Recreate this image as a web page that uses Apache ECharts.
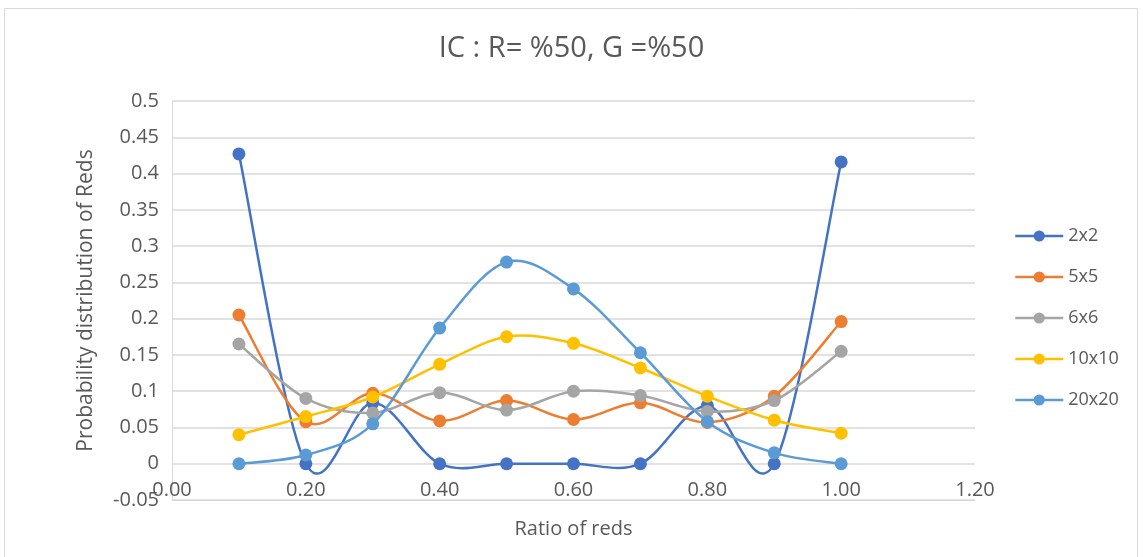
<!DOCTYPE html>
<html><head><meta charset="utf-8">
<script src="https://cdn.jsdelivr.net/npm/echarts@6/dist/echarts.min.js"></script>
<style>html,body{margin:0;padding:0;background:#fff}#c{width:1143px;height:557px}</style>
</head><body><div id="c"></div>
<script>
const ratios = [0.1, 0.2, 0.3, 0.4, 0.5, 0.6, 0.7, 0.8, 0.9, 1.0];
const s2x2   = [0.427, 0, 0.084, 0, 0, 0, 0, 0.08, 0, 0.416];
const s5x5   = [0.205, 0.058, 0.097, 0.059, 0.087, 0.061, 0.084, 0.057, 0.093, 0.196];
const s6x6   = [0.165, 0.090, 0.070, 0.098, 0.074, 0.100, 0.094, 0.072, 0.087, 0.155];
const s10x10 = [0.040, 0.065, 0.092, 0.137, 0.175, 0.166, 0.132, 0.093, 0.060, 0.042];
const s20x20 = [0, 0.012, 0.055, 0.187, 0.278, 0.241, 0.153, 0.058, 0.015, 0];
const seriesNames = ['2x2', '5x5', '6x6', '10x10', '20x20'];
const seriesData = [s2x2, s5x5, s6x6, s10x10, s20x20];
const colors = ['#4472C4', '#ED7D31', '#A5A5A5', '#FFC000', '#5B9BD5'];

const font = 'Open Sans, Noto Sans, sans-serif';
const txt = '#595959';
const grid = '#d9d9d9';

// Smooth curve (Catmull-Rom style bezier) drawn through the axis scale with api.coord
function curveSeries(idx) {
  const ys = seriesData[idx];
  const pts = ratios.map((x, j) => [x, ys[j]]);
  return {
    type: 'custom', name: seriesNames[idx] + ' curve', silent: true,
    data: pts, encode: {x: 0, y: 1},
    z: 2 + idx * 2,
    renderItem: function (params, api) {
      const i = params.dataIndex;
      if (i >= pts.length - 1) return null;
      const c = k => api.coord(pts[Math.max(0, Math.min(pts.length - 1, k))]);
      const p0 = c(i - 1), p1 = c(i), p2 = c(i + 1), p3 = c(i + 2);
      return {
        type: 'bezierCurve',
        shape: {
          x1: p1[0], y1: p1[1], x2: p2[0], y2: p2[1],
          cpx1: p1[0] + (p2[0] - p0[0]) / 6, cpy1: p1[1] + (p2[1] - p0[1]) / 6,
          cpx2: p2[0] - (p3[0] - p1[0]) / 6, cpy2: p2[1] - (p3[1] - p1[1]) / 6
        },
        style: {stroke: colors[idx], lineWidth: 2.5, fill: null},
        z2: 0
      };
    }
  };
}

const series = [];
seriesNames.forEach((n, i) => {
  series.push(curveSeries(i));
  series.push({
    name: n, type: 'line',
    data: ratios.map((x, j) => [x, seriesData[i][j]]),
    symbol: 'circle', symbolSize: 13, showAllSymbol: true,
    lineStyle: {width: 2.5, color: colors[i], opacity: 0},
    itemStyle: {color: colors[i]},
    z: 3 + i * 2
  });
});

const chart = echarts.init(document.getElementById('c'), null, {renderer: 'canvas'});
chart.setOption({
  animation: false,
  color: colors,
  textStyle: {fontFamily: font},
  graphic: [{type: 'rect', shape: {x: 4.5, y: 8.5, width: 1133, height: 560}, style: {fill: 'none', stroke: grid, lineWidth: 1}, silent: true}],
  title: {text: 'IC : R= %50, G =%50', left: 'center', top: 29, textStyle: {fontFamily: font, fontSize: 29, fontWeight: 'normal', color: txt}},
  legend: {
    orient: 'vertical', left: 1009, top: 222, itemGap: 23, itemWidth: 48, itemHeight: 14,
    textStyle: {fontFamily: font, fontSize: 18, color: txt},
    lineStyle: {opacity: 1, width: 2.5},
    data: seriesNames
  },
  grid: {left: 172, right: 168, top: 101, bottom: 57},
  xAxis: {
    type: 'value', min: 0, max: 1.2, interval: 0.2,
    name: 'Ratio of reds', nameLocation: 'middle', nameGap: 19,
    nameTextStyle: {fontFamily: font, fontSize: 20, color: txt},
    axisLine: {show: true, onZero: false, lineStyle: {color: grid, width: 1}},
    axisTick: {show: false},
    splitLine: {show: false},
    axisLabel: {inside: true, margin: 0, fontFamily: font, fontSize: 20, color: txt, formatter: v => v.toFixed(2)}
  },
  yAxis: {
    type: 'value', min: -0.05, max: 0.5, interval: 0.05,
    name: 'Probability distribution of Reds', nameLocation: 'middle', nameGap: 75,
    nameTextStyle: {fontFamily: font, fontSize: 21, color: txt},
    axisLine: {show: true, lineStyle: {color: grid, width: 1}},
    axisTick: {show: false},
    splitLine: {show: true, lineStyle: {color: grid, width: 1.5}},
    axisLabel: {margin: 13, fontFamily: font, fontSize: 20, color: txt, formatter: v => String(parseFloat(v.toFixed(2)))}
  },
  series: series
});
</script></body></html>
